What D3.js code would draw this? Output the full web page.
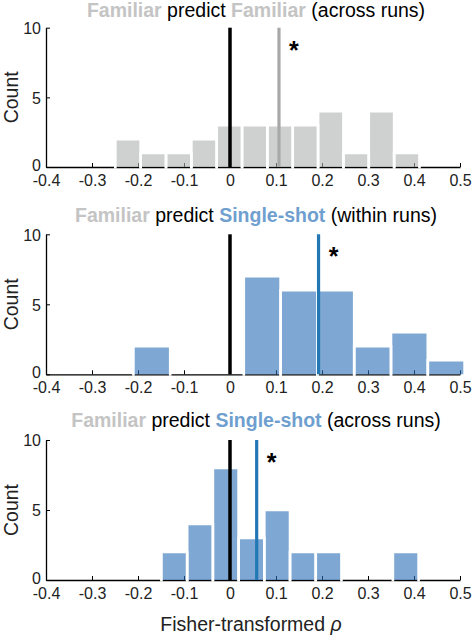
<!DOCTYPE html>
<html><head><meta charset="utf-8">
<script src="https://cdn.jsdelivr.net/npm/d3@7"></script>
<style>body{margin:0;background:#fff}svg{display:block}text{font-family:"Liberation Sans",Arial,sans-serif}</style>
</head><body>
<svg id="c" width="475" height="642"></svg>
<script>
// ---- data ----
const xTicks = [-0.4,-0.3,-0.2,-0.1,0,0.1,0.2,0.3,0.4,0.5];
const yTicks = [0,5,10];
const titles = [
  [["Familiar","grey"],[" predict ","black"],["Familiar","grey"],[" (across runs)","black"]],
  [["Familiar","grey"],[" predict ","black"],["Single-shot","blue"],[" (within runs)","black"]],
  [["Familiar","grey"],[" predict ","black"],["Single-shot","blue"],[" (across runs)","black"]]
];
const binStart = [-0.2493, -0.21, -0.149];
const binWidth = [0.0551, 0.08, 0.0559];
const counts1 = [2,1,1,2,3,3,3,3,4,1,4,1];
const counts2 = [2,0,0,7,6,6,2,3,1];
const counts3 = [2,4,8,3,5,2,2,0,0,2];
const means = [0.1065, 0.1925, 0.058];
const barColor = ["grey","blue","blue"];
const xLabel = "Fisher-transformed ";
const yLabel = "Count";

// ---- layout ----
const palette = {grey:"#afb0b1", blue:"#286eb6"};
const textCol = {grey:"#c4c4c4", blue:"#6f9fcf", black:"#000"};
const meanCol = {grey:"#a8a8a8", blue:"#2277b5"};
const panels = [
  {top:27.7, bottom:167, titleY:17},
  {top:234.3, bottom:374.3, titleY:222},
  {top:440, bottom:580, titleY:427}
];
const allCounts = [counts1, counts2, counts3];
const svg = d3.select("#c");
const x = d3.scaleLinear().domain([-0.4,0.5]).range([46,460]);

panels.forEach((p,i)=>{
  const y = d3.scaleLinear().domain([0,10]).range([p.bottom,p.top]);
  const g = svg.append("g");
  // axes
  const xa = g.append("g").attr("transform",`translate(0,${p.bottom})`)
    .call(d3.axisTop(x).tickValues(xTicks).tickSize(4).tickSizeOuter(0).tickFormat(d=>String(d)));
  xa.select(".domain").attr("stroke","#000").attr("stroke-width",1.3);
  xa.selectAll(".tick line").attr("stroke","#000").attr("stroke-width",1);
  xa.selectAll(".tick text").attr("y",19).attr("dy",0).attr("font-size",16).attr("fill","#222");
  const ya = g.append("g").attr("transform",`translate(46,0)`)
    .call(d3.axisRight(y).tickValues(yTicks).tickSize(4).tickSizeOuter(0));
  ya.select(".domain").attr("stroke","#000").attr("stroke-width",1.3);
  ya.selectAll(".tick text").attr("x",-5).attr("text-anchor","end").attr("dy",d=>d===0?"0.2em":"0.36em").attr("font-size",16).attr("fill","#222");
  // bars
  const bins = allCounts[i].map((c,k)=>({x0:binStart[i]+k*binWidth[i], x1:binStart[i]+(k+1)*binWidth[i], c}))
    .filter(b=>b.c>0);
  g.selectAll("rect.bar").data(bins).join("rect").attr("class","bar")
    .attr("x",b=>x(b.x0)).attr("width",b=>x(b.x1)-x(b.x0))
    .attr("y",b=>y(b.c)).attr("height",b=>y(0)-y(b.c))
    .attr("fill",palette[barColor[i]]).attr("fill-opacity",0.6);
  g.selectAll("path.edge").data(bins).join("path").attr("class","edge")
    .attr("d",b=>`M${x(b.x0)},${y(0)+1.5}V${y(b.c)}H${x(b.x1)}V${y(0)+1.5}`)
    .attr("fill","none").attr("stroke","#fff").attr("stroke-width",2.6);
  // zero line and mean line
  g.append("line").attr("x1",x(0)).attr("x2",x(0)).attr("y1",y(10)).attr("y2",y(0))
    .attr("stroke","#000").attr("stroke-width",3.5);
  g.append("line").attr("x1",x(means[i])).attr("x2",x(means[i])).attr("y1",y(10)).attr("y2",y(0))
    .attr("stroke",meanCol[barColor[i]]).attr("stroke-width",3.2);
  g.append("text").attr("x",x(means[i])+15).attr("y",y(10)+31).attr("text-anchor","middle")
    .attr("font-size",25).attr("font-weight","bold").text("*");
  // title
  const t = g.append("text").attr("x",256).attr("y",p.titleY).attr("text-anchor","middle").attr("font-size",19.5)
    .style("white-space","pre");
  titles[i].forEach(([s,c])=>{
    t.append("tspan").text(s).attr("fill",textCol[c]).attr("font-weight",c==="black"?"normal":"bold");
  });
  // y label
  g.append("text").attr("transform",`translate(18,${(p.top+p.bottom)/2}) rotate(-90)`)
    .attr("text-anchor","middle").attr("font-size",19.5).attr("fill","#222").text(yLabel);
});
const xl = svg.append("text").attr("x",251).attr("y",631).attr("text-anchor","middle").attr("font-size",19.5).attr("fill","#222");
xl.append("tspan").text(xLabel).style("white-space","pre");
xl.append("tspan").text("ρ").attr("font-style","italic");
</script>
</body></html>
